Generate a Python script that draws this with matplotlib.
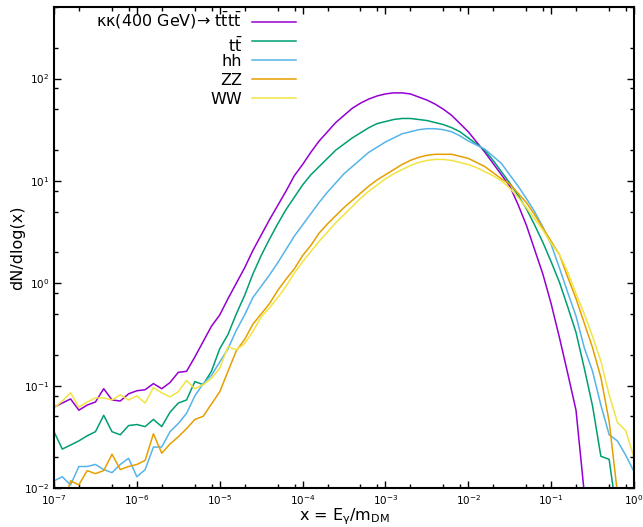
import numpy as np
import matplotlib
matplotlib.use("Agg")
import matplotlib.pyplot as plt
from matplotlib.ticker import LogLocator, NullFormatter

# x grid: 10 points per decade from 1e-7 to 1
log_x = np.round(np.arange(-7.0, 0.05, 0.1), 1)

# log10(dN/dlog x), one value per grid point
log_tttt = [-1.21, -1.17, -1.13, -1.24, -1.19, -1.16, -1.03, -1.14, -1.15, -1.08,
            -1.05, -1.04, -0.98, -1.03, -0.97, -0.87, -0.86, -0.72, -0.57, -0.42,
            -0.31, -0.15, 0.00, 0.15, 0.32, 0.47, 0.62, 0.76, 0.90, 1.05,
            1.16, 1.28, 1.39, 1.48, 1.57, 1.64, 1.71, 1.76, 1.80, 1.83,
            1.85, 1.86, 1.86, 1.85, 1.82, 1.79, 1.75, 1.70, 1.64, 1.56,
            1.48, 1.38, 1.28, 1.17, 1.06, 0.95, 0.77, 0.57, 0.33, 0.09,
            -0.20, -0.53, -0.88, -1.24, -2.05, -4.0, np.nan, np.nan, np.nan, np.nan,
            np.nan]
log_tt = [-1.45, -1.62, -1.58, -1.54, -1.49, -1.45, -1.29, -1.45, -1.48, -1.39,
          -1.38, -1.40, -1.33, -1.40, -1.26, -1.17, -1.14, -0.96, -0.99, -0.86,
          -0.64, -0.50, -0.30, -0.12, 0.09, 0.27, 0.43, 0.58, 0.72, 0.84,
          0.96, 1.06, 1.14, 1.22, 1.30, 1.36, 1.42, 1.47, 1.52, 1.56,
          1.58, 1.60, 1.61, 1.61, 1.60, 1.59, 1.57, 1.55, 1.52, 1.48,
          1.42, 1.36, 1.30, 1.20, 1.09, 0.98, 0.86, 0.73, 0.57, 0.40,
          0.21, 0.01, -0.23, -0.48, -0.83, -1.20, -1.69, -1.72, -2.3, np.nan,
          np.nan]
log_hh = [-1.93, -1.89, -1.97, -1.79, -1.79, -1.77, -1.82, -1.85, -1.77, -1.71,
          -1.89, -1.82, -1.60, -1.60, -1.45, -1.37, -1.27, -1.10, -0.98, -0.90,
          -0.77, -0.64, -0.46, -0.31, -0.14, -0.03, 0.08, 0.20, 0.33, 0.46,
          0.57, 0.68, 0.79, 0.89, 0.98, 1.07, 1.14, 1.21, 1.28, 1.33,
          1.38, 1.42, 1.46, 1.48, 1.50, 1.51, 1.51, 1.50, 1.48, 1.44,
          1.39, 1.35, 1.31, 1.24, 1.17, 1.06, 0.95, 0.83, 0.70, 0.55,
          0.38, 0.15, -0.09, -0.32, -0.63, -0.86, -1.19, -1.48, -1.54, -1.68,
          -1.84]
log_zz = [-1.97, -2.2, -1.93, -1.97, -1.83, -1.86, -1.83, -1.67, -1.82, -1.79,
          -1.77, -1.73, -1.47, -1.66, -1.57, -1.50, -1.42, -1.33, -1.30, -1.18,
          -1.06, -0.86, -0.66, -0.55, -0.40, -0.30, -0.20, -0.07, 0.04, 0.14,
          0.27, 0.37, 0.49, 0.58, 0.66, 0.74, 0.81, 0.88, 0.95, 1.01,
          1.06, 1.11, 1.16, 1.20, 1.23, 1.25, 1.26, 1.26, 1.26, 1.24,
          1.22, 1.18, 1.14, 1.08, 1.02, 0.97, 0.88, 0.79, 0.67, 0.54,
          0.41, 0.28, 0.06, -0.15, -0.39, -0.63, -0.92, -1.35, -2.05, np.nan,
          np.nan]
log_ww = [-1.22, -1.15, -1.07, -1.21, -1.16, -1.12, -1.12, -1.14, -1.09, -1.14,
          -1.10, -1.17, -1.02, -1.07, -1.11, -1.06, -0.95, -1.03, -0.99, -0.93,
          -0.83, -0.62, -0.65, -0.59, -0.47, -0.33, -0.24, -0.14, -0.03, 0.10,
          0.21, 0.31, 0.41, 0.50, 0.59, 0.67, 0.75, 0.83, 0.90, 0.96,
          1.02, 1.07, 1.11, 1.15, 1.18, 1.20, 1.21, 1.21, 1.20, 1.18,
          1.16, 1.13, 1.09, 1.05, 1.00, 0.93, 0.84, 0.74, 0.63, 0.52,
          0.39, 0.28, 0.11, -0.10, -0.30, -0.52, -0.76, -1.09, -1.36, -1.44,
          -1.70]

labels = ['κκ(400 GeV)→ ' + r'$\mathrm{t\bar{t}t\bar{t}}$',
          r'$\mathrm{t\bar{t}}$', 'hh', 'ZZ', 'WW']
series = [log_tttt, log_tt, log_hh, log_zz, log_ww]
colors = ['#9400D3', '#009E73', '#56B4E9', '#E69F00', '#F0E442']

W, H = 643, 527
L, R, B, T = 54, 634, 488, 7          # axes box in pixels
fig = plt.figure(figsize=(W / 100, H / 100), dpi=100)
ax = fig.add_axes([L / W, (H - B) / H, (R - L) / W, (B - T) / H])

x = 10.0 ** log_x
for vals, col in zip(series, colors):
    ax.plot(x, 10.0 ** np.array(vals, dtype=float), color=col, lw=1.1)

ax.set_xscale('log')
ax.set_yscale('log')
ax.set_xlim(1e-7, 1)
ax.set_ylim(1e-2, 500)

for axis in (ax.xaxis, ax.yaxis):
    axis.set_major_locator(LogLocator(base=10, numticks=20))
    axis.set_minor_locator(LogLocator(base=10, subs=(2, 5, 8), numticks=20))
    axis.set_minor_formatter(NullFormatter())
ax.tick_params(which='both', direction='in', top=True, right=True, labelsize=7.5)
ax.tick_params(which='major', length=5, width=1)
ax.tick_params(which='minor', length=3, width=1)
for sp in ax.spines.values():
    sp.set_linewidth(1.5)

ax.set_xlabel(r'x = E$_{\mathrm{γ}}$/m$_{\mathrm{DM}}$', fontsize=11.5, labelpad=0)
ax.set_ylabel('dN/dlog(x)', fontsize=11.5)
ax.yaxis.set_label_coords((25 - L) / (R - L), 0.5)

# gnuplot-style key: right-aligned text, sample line to its right
ph = 1.0 / (B - T)
pw = 1.0 / (R - L)
row_y = [21.7, 40.7, 60, 79, 98]
base_off = [5, 11, 6, 6, 6]
for lab, col, yy, off in zip(labels, colors, row_y, base_off):
    yl = 1 - (yy - T) * ph
    ax.text((242 - L) * pw, yl - off * ph, lab, transform=ax.transAxes,
            ha='right', va='baseline', fontsize=11.5)
    ax.plot([(252 - L) * pw, (296 - L) * pw], [yl, yl], color=col, lw=1.1,
            transform=ax.transAxes)

fig.savefig('out.png', dpi=100)
